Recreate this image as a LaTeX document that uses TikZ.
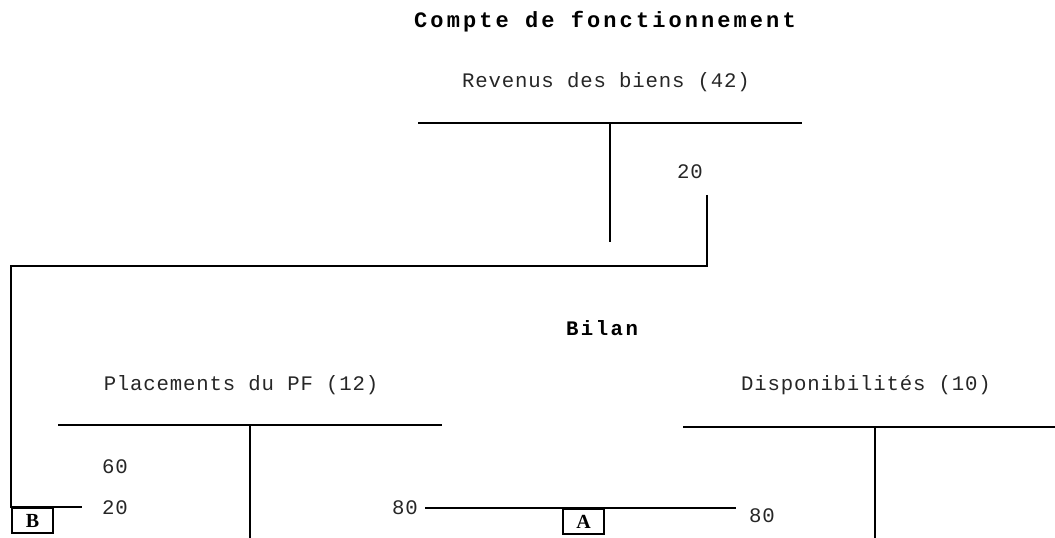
\documentclass[tikz,border=0pt]{standalone}
\usepackage{fontspec}
\newfontfamily\courreg[LetterSpace=4]{Liberation Mono}
\newfontfamily\courbold[LetterSpace=12,BoldFont={Liberation Mono Bold}]{Liberation Mono Bold}
\newfontfamily\courboldwide[LetterSpace=14,BoldFont={Liberation Mono Bold}]{Liberation Mono Bold}
\newfontfamily\timesb{Liberation Serif Bold}
\begin{document}
\begin{tikzpicture}[x=0.75pt,y=-0.75pt,
  rule/.style={line width=1.5pt},
  title/.style={font=\courbold\fontsize{15.5}{18}\selectfont, inner sep=0pt},
  bigtitle/.style={font=\courboldwide\fontsize{16.5}{19}\selectfont, inner sep=0pt},
  lbl/.style={font=\courreg\fontsize{15.5}{18}\selectfont, inner sep=0pt, text=black!85},
  tag/.style={draw, line width=1.5pt, inner sep=0pt, minimum width=31pt, minimum height=19pt, anchor=north west, font=\timesb\fontsize{15}{17}\selectfont}]
\useasboundingbox (0,0) rectangle (1055,538);
% Compte de fonctionnement
\node[bigtitle] (cf) at (605,22) {Compte de fonctionnement};
\node[lbl] (rev) at (606,82) {Revenus des biens (42)};
\coordinate (revL) at (418,123);
\coordinate (revR) at (802,123);
\coordinate (revT) at (610,123);
\coordinate (revB) at (610,242);
\draw[rule] (revL) -- (revR);
\draw[rule] (revT) -- (revB);
\node[lbl] (v20a) at (690,172) {20};
% Bilan
\node[title] (bil) at (602,328) {Bilan};
\node[lbl] (plac) at (241,385) {Placements du PF (12)};
\coordinate (plL) at (58,425);
\coordinate (plR) at (442,425);
\coordinate (plT) at (250,425);
\coordinate (plB) at (250,538);
\draw[rule] (plL) -- (plR);
\draw[rule] (plT) -- (plB);
\node[lbl] (v60) at (115,467) {60};
\node[lbl] (v20b) at (115,508) {20};
\node[lbl] (dispo) at (866,385) {Disponibilités (10)};
\coordinate (dL) at (683,427);
\coordinate (dR) at (1055,427);
\coordinate (dT) at (875,427);
\coordinate (dB) at (875,538);
\draw[rule] (dL) -- (dR);
\draw[rule] (dT) -- (dB);
% connector B
\node[tag] (B) at (11,507) {B};
\coordinate (c1) at (707,195);
\coordinate (c2) at (707,266);
\coordinate (c3) at (11,266);
\coordinate (c4) at (82,507);
\draw[rule] (c1) -- (c2) -- (c3) -- (B.north west) -- (c4);
% connector A
\node[lbl] (v80a) at (405,508) {80};
\node[lbl] (v80b) at (762,516) {80};
\coordinate (aL) at (425,508);
\coordinate (aR) at (736,508);
\draw[rule] (aL) -- (aR);
\node[tag] (A) at (562,508) {A};
\end{tikzpicture}
\end{document}
